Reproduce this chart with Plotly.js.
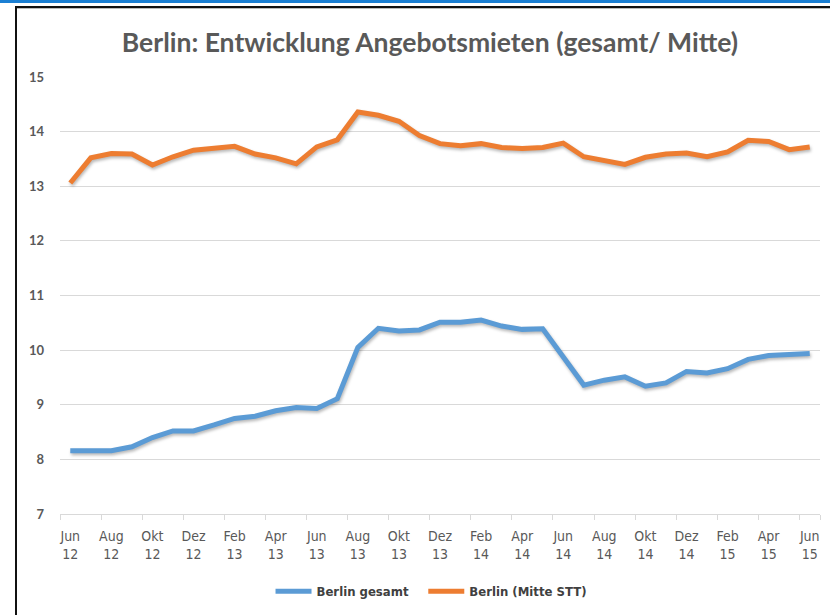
<!DOCTYPE html>
<html>
<head>
<meta charset="utf-8">
<script src="https://cdn.plot.ly/plotly-3.0.1.min.js"></script>
<style>
  html, body { margin: 0; padding: 0; background: #fff; }
  #wrap { position: relative; width: 830px; height: 615px; overflow: hidden; }
  #chart { position: absolute; left: 0; top: 0; width: 830px; height: 615px; }
  .deco { position: absolute; pointer-events: none; }
  #chart .scatterlayer .js-line { filter: drop-shadow(1px 2px 1.5px rgba(0,0,0,0.28)); }
</style>
</head>
<body>
<div id="wrap">
  <div id="chart"></div>
  <div class="deco" style="left:0;top:0;width:830px;height:3px;background:#1b7fd3;"></div>
  <div class="deco" style="left:15px;top:6px;width:815px;height:2px;background:#111;"></div>
  <div class="deco" style="left:17px;top:8px;width:813px;height:1px;background:#bbb;"></div>
  <div class="deco" style="left:15px;top:6px;width:2px;height:609px;background:#111;"></div>
</div>
<script>
const months = ["Jun 12","Jul 12","Aug 12","Sep 12","Okt 12","Nov 12","Dez 12",
  "Jan 13","Feb 13","Mär 13","Apr 13","Mai 13","Jun 13","Jul 13","Aug 13","Sep 13","Okt 13","Nov 13","Dez 13",
  "Jan 14","Feb 14","Mär 14","Apr 14","Mai 14","Jun 14","Jul 14","Aug 14","Sep 14","Okt 14","Nov 14","Dez 14",
  "Jan 15","Feb 15","Mär 15","Apr 15","Mai 15","Jun 15"];

const berlinGesamt = [8.16, 8.16, 8.16, 8.23, 8.40, 8.52, 8.52, 8.63, 8.75, 8.79, 8.89, 8.95,
  8.93, 9.11, 10.05, 10.40, 10.35, 10.37, 10.51, 10.51, 10.55, 10.44, 10.38, 10.39,
  9.88, 9.36, 9.45, 9.51, 9.34, 9.40, 9.61, 9.58, 9.66, 9.83, 9.90, 9.92, 9.94];

const berlinMitte = [13.06, 13.52, 13.60, 13.59, 13.39, 13.54, 13.66, 13.70, 13.73, 13.59, 13.52, 13.41,
  13.72, 13.85, 14.36, 14.30, 14.19, 13.93, 13.78, 13.74, 13.78, 13.71, 13.69, 13.71,
  13.79, 13.54, 13.47, 13.40, 13.53, 13.59, 13.61, 13.54, 13.63, 13.84, 13.82, 13.67, 13.72];

const tickLabels = ["Jun<br>12","Aug<br>12","Okt<br>12","Dez<br>12","Feb<br>13","Apr<br>13","Jun<br>13",
  "Aug<br>13","Okt<br>13","Dez<br>13","Feb<br>14","Apr<br>14","Jun<br>14","Aug<br>14","Okt<br>14",
  "Dez<br>14","Feb<br>15","Apr<br>15","Jun<br>15"];

const seriesNames = ["Berlin gesamt", "Berlin (Mitte STT)"];
const yTicks = [7, 8, 9, 10, 11, 12, 13, 14, 15];

const idx = months.map((m, i) => i);
const labelVals = tickLabels.map((t, k) => k * 2);
const boundaryVals = tickLabels.map((t, k) => k * 2 - 0.5).concat([months.length - 0.5]);

const narrow = "Liberation Sans Narrow, DejaVu Sans Condensed, Roboto, sans-serif";

const traces = [
  { x: idx, y: berlinGesamt, text: months, name: seriesNames[0], type: "scatter", mode: "lines",
    line: { color: "#5b9bd5", width: 5 }, hoverinfo: "text+y", legend: "legend" },
  { x: idx, y: berlinMitte, text: months, name: seriesNames[1], type: "scatter", mode: "lines",
    line: { color: "#ed7d31", width: 5 }, hoverinfo: "text+y", legend: "legend2" },
  { x: [idx[0]], y: [null], xaxis: "x2", showlegend: false, hoverinfo: "skip", type: "scatter", mode: "lines" }
];

const range = [-0.5, months.length - 0.5];

const legendBase = {
  orientation: "h", y: -0.174, yanchor: "middle", xanchor: "left",
  font: { family: narrow, size: 13, color: "#404040", weight: "bold" },
  itemwidth: 36, bgcolor: "rgba(0,0,0,0)"
};

const layout = {
  width: 830, height: 615,
  margin: { l: 60, r: 10, t: 77, b: 100 },
  paper_bgcolor: "#fff", plot_bgcolor: "#fff",
  title: {
    text: "Berlin: Entwicklung Angebotsmieten (gesamt/ Mitte)",
    font: { family: "Lato, Open Sans, sans-serif", size: 26.5, color: "#595959", weight: "bold" },
    x: 0.518, xanchor: "center", y: 0.930, yanchor: "middle"
  },
  xaxis: {
    range: range, tickmode: "array", tickvals: labelVals, ticktext: tickLabels,
    ticks: "", showgrid: false, zeroline: false, showline: false,
    tickfont: { family: narrow, size: 14, color: "#595959" },
    ticklabelstandoff: 12, fixedrange: true
  },
  xaxis2: {
    overlaying: "x", anchor: "y", side: "bottom", range: range,
    tickmode: "array", tickvals: boundaryVals, ticktext: boundaryVals.map(() => ""),
    ticks: "outside", ticklen: 5, tickwidth: 1, tickcolor: "#d9d9d9",
    showgrid: false, zeroline: false, showline: true, linecolor: "#d9d9d9", linewidth: 1,
    showticklabels: false, fixedrange: true
  },
  yaxis: {
    range: [7, 15], tickmode: "array", tickvals: yTicks, ticktext: yTicks.map(String),
    showgrid: true, gridcolor: "#d9d9d9", gridwidth: 1, zeroline: false, showline: false,
    ticks: "", tickfont: { family: "Lato, Open Sans, sans-serif", size: 13, color: "#595959", weight: "bold" },
    ticklabelstandoff: 15, fixedrange: true
  },
  legend: Object.assign({}, legendBase, { x: 0.277 }),
  legend2: Object.assign({}, legendBase, { x: 0.478 }),
  showlegend: true
};

Plotly.newPlot("chart", traces, layout, { displayModeBar: false, staticPlot: true });
</script>
</body>
</html>
